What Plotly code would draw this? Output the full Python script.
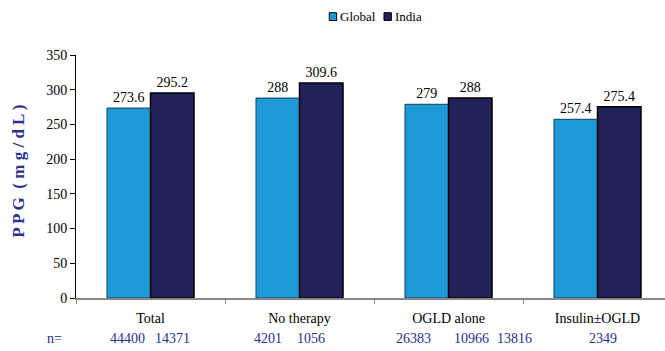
import plotly.graph_objects as go

# Mean post-prandial glucose by treatment group
categories = ["Total", "No therapy", "OGLD alone", "Insulin±OGLD"]
global_ppg = [273.6, 288, 279, 257.4]
india_ppg = [295.2, 309.6, 288, 275.4]

# Sample sizes shown under each group (Global, India)
n_global = [44400, 4201, 26383, 13816]
n_india = [14371, 1056, 10966, 2349]
# horizontal placement of the n= labels on the category axis
n_global_x = [-0.152, 0.789, 1.768, 2.44]
n_india_x = [0.145, 1.077, 2.151, 3.037]

y_ticks = [0, 50, 100, 150, 200, 250, 300, 350]

SERIF = "Liberation Serif, Times New Roman, serif"
NAVY_TEXT = "#2b2f8c"
GLOBAL_COLOR = "#1d9ad6"
INDIA_COLOR = "#22215a"

fig = go.Figure()
fig.add_trace(go.Bar(
    name="Global", x=categories, y=global_ppg,
    marker=dict(color=GLOBAL_COLOR, line=dict(color="#123e5a", width=1)),
    text=[f"{v:g}" for v in global_ppg], textposition="outside",
    textfont=dict(family=SERIF, size=14, color="#000000"),
    cliponaxis=False,
))
fig.add_trace(go.Bar(
    name="India", x=categories, y=india_ppg,
    marker=dict(color=INDIA_COLOR, line=dict(color="#000000", width=1.5)),
    text=[f"{v:g}" for v in india_ppg], textposition="outside",
    textfont=dict(family=SERIF, size=14, color="#000000"),
    cliponaxis=False,
))

y_title = "P P G  ( m g / d L )"

annotations = [
    dict(text=y_title, x=-0.097, y=0.523, xref="paper", yref="paper",
         textangle=-90, showarrow=False, xanchor="center", yanchor="middle",
         font=dict(family=SERIF, size=17, color=NAVY_TEXT, weight="bold")),
    dict(text="n=", x=-0.037, y=-0.165, xref="paper", yref="paper", showarrow=False,
         xanchor="center", yanchor="middle",
         font=dict(family=SERIF, size=14, color=NAVY_TEXT)),
]
for xs, ns in ((n_global_x, n_global), (n_india_x, n_india)):
    for xv, n in zip(xs, ns):
        annotations.append(dict(
            text=str(n), x=xv, y=-0.165, xref="x", yref="paper", showarrow=False,
            xanchor="center", yanchor="middle",
            font=dict(family=SERIF, size=14, color=NAVY_TEXT)))

# compact legend: small outlined squares followed by the series names
legend_items = [("Global", GLOBAL_COLOR, 0.4300), ("India", INDIA_COLOR, 0.5229)]
shapes = []
for name, color, x0 in legend_items:
    shapes.append(dict(type="rect", xref="paper", yref="paper",
                       x0=x0, x1=x0 + 0.0125, y0=1.142, y1=1.174,
                       fillcolor=color, line=dict(color="#000000", width=1)))
    annotations.append(dict(text=name, x=x0 + 0.0145, y=1.158, xref="paper", yref="paper",
                            showarrow=False, xanchor="left", yanchor="middle",
                            font=dict(family=SERIF, size=13, color="#000000")))

fig.update_layout(
    width=665, height=351,
    margin=dict(l=76, r=0, t=55, b=53),
    paper_bgcolor="white", plot_bgcolor="white",
    barmode="group", bargap=0.416, bargroupgap=0,
    font=dict(family=SERIF, size=14, color="#000000"),
    showlegend=False,
    xaxis=dict(
        range=[-0.5, 3.453], showline=True, linecolor="#888888", linewidth=1.5,
        ticks="outside", tickson="boundaries", ticklen=4, tickcolor="#888888",
        ticklabelstandoff=6,
        showgrid=False, tickfont=dict(family=SERIF, size=14, color="#000000"),
    ),
    yaxis=dict(
        range=[0, 350], tickvals=y_ticks, showline=True, linecolor="#000000",
        linewidth=1, ticks="outside", ticklen=5, tickcolor="#000000",
        showgrid=False, zeroline=False,
        tickfont=dict(family=SERIF, size=14, color="#000000"),
    ),
    shapes=shapes,
    annotations=annotations,
)

fig.write_html("out.html")
